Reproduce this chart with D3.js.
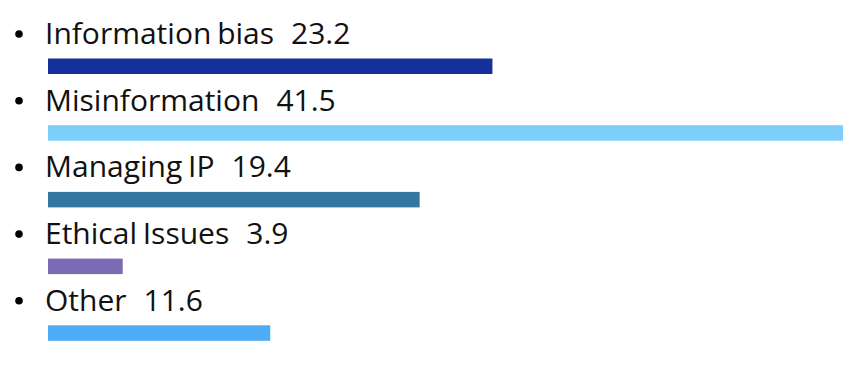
<!DOCTYPE html>
<html>
<head>
<meta charset="utf-8">
<script src="https://cdn.jsdelivr.net/npm/d3@7"></script>
<style>
  body { margin: 0; background: #fff; }
  text { font-family: "Open Sans", sans-serif; font-weight: 370; fill: #111; }
</style>
</head>
<body>
<svg id="chart" width="863" height="365"></svg>
<script>
// data
var categories = ["Information bias", "Misinformation", "Managing IP", "Ethical Issues", "Other"];
var values = [23.2, 41.5, 19.4, 3.9, 11.6];
var colors = ["#15309b", "#7ccff8", "#35789f", "#7b6bb5", "#4eabf5"];

var svg = d3.select("#chart");

var x = d3.scaleLinear().domain([0, d3.max(values)]).range([48, 843]);
var y = d3.scaleBand().domain(categories).range([0, 333.5]);

var rows = svg.selectAll("g.row")
    .data(categories)
    .enter().append("g")
    .attr("class", "row")
    .attr("transform", function (d) { return "translate(0," + y(d) + ")"; });

// bullet
rows.append("circle")
    .attr("cx", 19)
    .attr("cy", 34)
    .attr("r", 3.8)
    .attr("fill", "#000");

// label + value
var lbl = rows.append("text")
    .attr("x", 45)
    .attr("y", 44)
    .style("font-size", "30px")
    .style("word-spacing", "-2px");
lbl.append("tspan").text(function (d) { return d; });
lbl.append("tspan")
    .attr("dx", 17)
    .text(function (d, i) { return values[i]; });

// bar
rows.append("rect")
    .attr("x", x(0))
    .attr("y", 58.5)
    .attr("height", 15.5)
    .attr("width", function (d, i) { return x(values[i]) - x(0); })
    .attr("fill", function (d, i) { return colors[i]; });
</script>
</body>
</html>
